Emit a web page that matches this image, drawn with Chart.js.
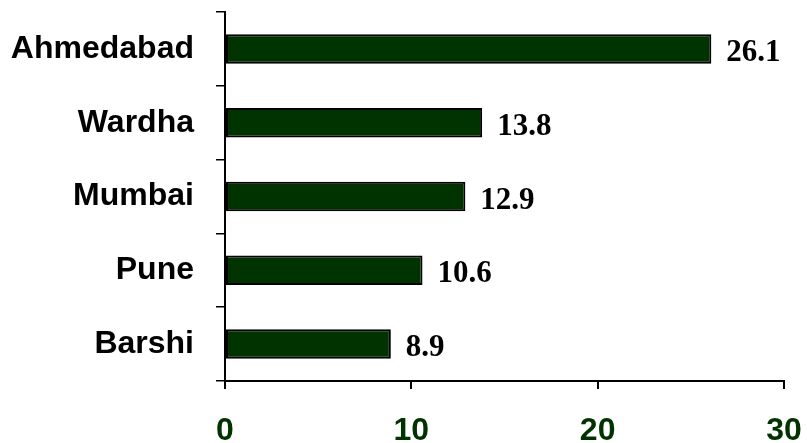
<!DOCTYPE html>
<html>
<head>
<meta charset="utf-8">
<script src="https://cdn.jsdelivr.net/npm/chart.js@4/dist/chart.umd.min.js"></script>
<style>
  html,body{margin:0;padding:0;background:#fff;}
  #wrap{width:807px;height:443px;}
</style>
</head>
<body>
<div id="wrap"><canvas id="c"></canvas></div>
<script>
const cities = ['Ahmedabad','Wardha','Mumbai','Pune','Barshi'];
const values = [26.1, 13.8, 12.9, 10.6, 8.9];
const xTicks = [0, 10, 20, 30];

// value labels at bar ends
const barLabels = {
  id:'barLabels',
  afterDatasetsDraw(chart){
    const ctx = chart.ctx;
    const meta = chart.getDatasetMeta(0);
    ctx.save();
    ctx.font = 'bold 31px "Liberation Serif", "Times New Roman", serif';
    ctx.fillStyle = '#000';
    ctx.textAlign = 'left';
    ctx.textBaseline = 'alphabetic';
    meta.data.forEach((bar,i)=>{
      ctx.fillText(values[i].toFixed(1), bar.x + 15, bar.y + 12);
    });
    ctx.restore();
  }
};

const noPad = s => { s.paddingTop = 0; s.paddingBottom = 0; s.paddingLeft = 0; s.paddingRight = 0; };

new Chart(document.getElementById('c'), {
  type:'bar',
  data:{
    labels: cities,
    datasets:[{
      data: values,
      backgroundColor:'#003300',
      borderColor:'#000',
      borderWidth:2,
      borderSkipped:false,
      barPercentage:0.4,
      categoryPercentage:1
    }]
  },
  options:{
    indexAxis:'y',
    responsive:true,
    maintainAspectRatio:false,
    animation:false,
    layout:{padding:{top:12, right:23, left:0, bottom:0}},
    plugins:{legend:{display:false}, tooltip:{enabled:false}},
    scales:{
      x:{
        min:0, max:30,
        afterBuildTicks: s => { s.ticks = xTicks.map(v=>({value:v})); },
        afterFit: s => { s.height = 62; noPad(s); },
        border:{display:true, color:'#000', width:2},
        grid:{drawOnChartArea:false, color:'#000', lineWidth:2, tickLength:8},
        ticks:{color:'#003300', padding:23, font:{family:'"Liberation Sans", Arial, sans-serif', size:32, weight:'bold'}}
      },
      y:{
        afterFit: s => { s.width = 225; noPad(s); },
        border:{display:true, color:'#000', width:2},
        grid:{offset:true, drawOnChartArea:false, color:'#000', lineWidth:1.5, tickLength:9},
        ticks:{color:'#000', padding:22, font:{family:'"Liberation Sans", Arial, sans-serif', size:32, weight:'bold'}}
      }
    }
  },
  plugins:[barLabels]
});
</script>
</body>
</html>
